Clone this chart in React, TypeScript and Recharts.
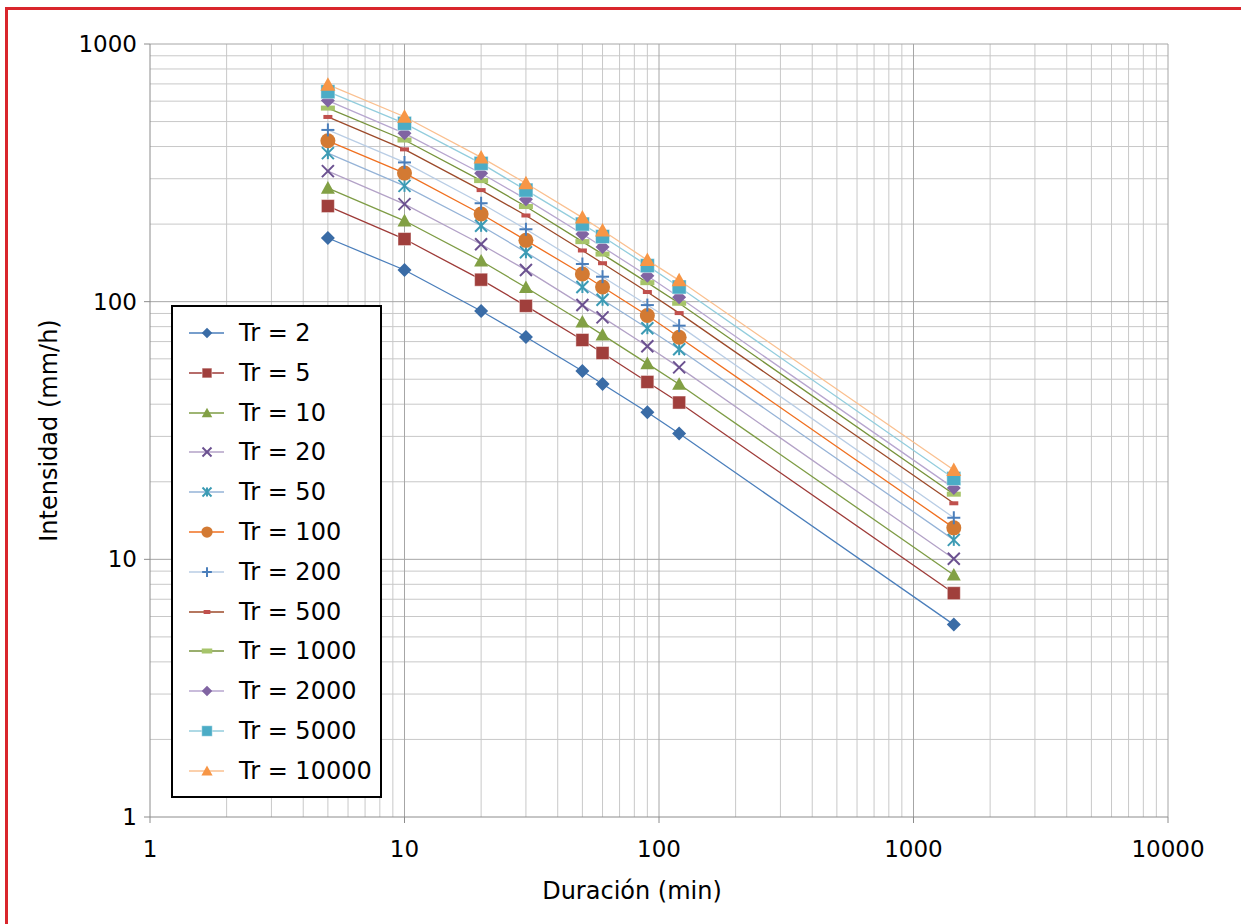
import React from 'react'
import { LineChart, Line, XAxis, YAxis, ReferenceLine, Label } from 'recharts'

// ─── Data ─────────────────────────────────────────────────────────────────────

const durations = [5, 10, 20, 30, 50, 60, 90, 120, 1440]

const tr2 = [176.6, 132.7, 92.0, 72.9, 53.8, 47.9, 37.2, 30.8, 5.58]
const tr5 = [235, 175, 121.7, 96.3, 71.0, 63.2, 48.8, 40.6, 7.39]
const tr10 = [276, 206, 143.8, 113.5, 83.4, 74.3, 57.5, 47.8, 8.7]
const tr20 = [321, 239, 167, 132.8, 97, 86.9, 67.1, 55.6, 10.05]
const tr50 = [377, 281.5, 197, 155.5, 114, 101.7, 78.9, 65.4, 11.9]
const tr100 = [421, 315.5, 219, 173, 128, 114, 88.4, 72.8, 13.25]
const tr200 = [464, 347, 241, 191, 140, 125, 97, 80.7, 14.5]
const tr500 = [521, 390, 271, 216, 158, 141, 109, 90.3, 16.5]
const tr1000 = [564, 424, 295, 234, 171, 153, 118.5, 98.6, 17.9]
const tr2000 = [603, 450, 315, 250, 183, 163, 126, 104, 18.9]
const tr5000 = [653, 492, 344, 271, 200, 179, 138, 114, 20.6]
const tr10000 = [695, 522, 363, 288, 212, 189, 145, 121, 22.2]

const seriesNames = [
  'Tr = 2', 'Tr = 5', 'Tr = 10', 'Tr = 20', 'Tr = 50', 'Tr = 100',
  'Tr = 200', 'Tr = 500', 'Tr = 1000', 'Tr = 2000', 'Tr = 5000', 'Tr = 10000',
]
const seriesValues = [tr2, tr5, tr10, tr20, tr50, tr100, tr200, tr500, tr1000, tr2000, tr5000, tr10000]

const xTicks = [1, 10, 100, 1000, 10000]
const yTicks = [1, 10, 100, 1000]
const minorSteps = [2, 3, 4, 5, 6, 7, 8, 9]

// ─── Styles ───────────────────────────────────────────────────────────────────

type Kind = 'diamond' | 'square' | 'triangle' | 'x' | 'star' | 'circle' | 'plus' | 'dash' | 'bar'

interface SeriesStyle {
  line: string
  marker: string
  kind: Kind
  size: number
}

const styles: SeriesStyle[] = [
  { line: '#4A7EBB', marker: '#3A6CA6', kind: 'diamond', size: 7 },
  { line: '#9E3B38', marker: '#A03F3C', kind: 'square', size: 6.5 },
  { line: '#7E9C45', marker: '#82A045', kind: 'triangle', size: 7 },
  { line: '#B3A2C7', marker: '#6B5190', kind: 'x', size: 6 },
  { line: '#95B3D7', marker: '#3C9BB4', kind: 'star', size: 6 },
  { line: '#F07020', marker: '#D37A33', kind: 'circle', size: 7.5 },
  { line: '#B9CDE5', marker: '#4A7EBB', kind: 'plus', size: 6.5 },
  { line: '#9C4A2A', marker: '#C0504D', kind: 'dash', size: 4.5 },
  { line: '#77933C', marker: '#A6C46A', kind: 'bar', size: 7 },
  { line: '#B7A6CF', marker: '#8064A2', kind: 'diamond', size: 7 },
  { line: '#93CDDD', marker: '#4BACC6', kind: 'square', size: 7 },
  { line: '#FAC090', marker: '#F79646', kind: 'triangle', size: 7.5 },
]

const FONT = '"DejaVu Sans", Verdana, sans-serif'

const data = durations.map((d, i) => {
  const row: Record<string, number> = { d }
  seriesValues.forEach((vals, s) => {
    row[`s${s}`] = vals[i]
  })
  return row
})

// ─── Markers ──────────────────────────────────────────────────────────────────

function Marker({ kind, x, y, s, color }: { kind: Kind; x: number; y: number; s: number; color: string }) {
  switch (kind) {
    case 'diamond':
      return <polygon points={`${x},${y - s} ${x + s},${y} ${x},${y + s} ${x - s},${y}`} fill={color} />
    case 'square':
      return <rect x={x - s} y={y - s} width={2 * s} height={2 * s} fill={color} stroke="#ffffff" strokeOpacity={0.45} strokeWidth={1} />
    case 'triangle':
      return <polygon points={`${x},${y - s} ${x + s},${y + s * 0.8} ${x - s},${y + s * 0.8}`} fill={color} />
    case 'x':
      return (
        <g stroke={color} strokeWidth={2}>
          <line x1={x - s} y1={y - s} x2={x + s} y2={y + s} />
          <line x1={x - s} y1={y + s} x2={x + s} y2={y - s} />
        </g>
      )
    case 'star':
      return (
        <g stroke={color} strokeWidth={2}>
          <line x1={x - s} y1={y - s} x2={x + s} y2={y + s} />
          <line x1={x - s} y1={y + s} x2={x + s} y2={y - s} />
          <line x1={x} y1={y - s} x2={x} y2={y + s} />
        </g>
      )
    case 'circle':
      return <circle cx={x} cy={y} r={s} fill={color} />
    case 'plus':
      return (
        <g stroke={color} strokeWidth={2}>
          <line x1={x - s} y1={y} x2={x + s} y2={y} />
          <line x1={x} y1={y - s} x2={x} y2={y + s} />
        </g>
      )
    case 'dash':
      return <rect x={x - s} y={y - 2} width={2 * s} height={4} fill={color} />
    case 'bar':
      return <rect x={x - s} y={y - 2.5} width={2 * s} height={5} fill={color} />
  }
}

// ─── Legend ───────────────────────────────────────────────────────────────────

function LegendBox() {
  return (
    <div
      style={{
        position: 'absolute',
        left: 171,
        top: 305,
        width: 207,
        height: 489,
        border: '2px solid #000',
        background: '#fff',
        boxSizing: 'content-box',
      }}
    >
      {seriesNames.map((name, i) => {
        const st = styles[i]
        return (
          <div
            key={name}
            style={{ position: 'absolute', left: 0, top: 6 + i * 39.8, height: 40, display: 'flex', alignItems: 'center' }}
          >
            <svg width={66} height={40} style={{ display: 'block' }}>
              <line x1={16} y1={20} x2={51} y2={20} stroke={st.line} strokeWidth={1.5} />
              <Marker kind={st.kind} x={34} y={20} s={st.size * 0.75} color={st.marker} />
            </svg>
            <span style={{ fontFamily: FONT, fontSize: 24, color: '#000', whiteSpace: 'nowrap' }}>{name}</span>
          </div>
        )
      })}
    </div>
  )
}

// ─── Chart ────────────────────────────────────────────────────────────────────

export default function App() {
  const minorX = xTicks.slice(0, -1).flatMap((t) => minorSteps.map((m) => m * t))
  const minorY = yTicks.slice(0, -1).flatMap((t) => minorSteps.map((m) => m * t))

  return (
    <div style={{ position: 'absolute', left: 0, top: 0, width: 1241, height: 924, overflow: 'hidden', background: '#fff' }}>
      <div
        style={{
          position: 'absolute',
          left: 5,
          top: 7,
          width: 1300,
          height: 1000,
          borderTop: '3px solid #D9262C',
          borderLeft: '3px solid #D9262C',
        }}
      />
      <div style={{ position: 'absolute', left: 0, top: 0 }}>
        <LineChart width={1241} height={924} data={data} margin={{ top: 44, right: 73, left: 0, bottom: 47 }}>
          {minorX.map((v) => (
            <ReferenceLine key={`mx${v}`} x={v} stroke="#C8C8C8" strokeWidth={1} />
          ))}
          {minorY.map((v) => (
            <ReferenceLine key={`my${v}`} y={v} stroke="#C8C8C8" strokeWidth={1} />
          ))}
          {xTicks.slice(1).map((v) => (
            <ReferenceLine key={`Mx${v}`} x={v} stroke="#A6A6A6" strokeWidth={1} />
          ))}
          {yTicks.slice(1).map((v) => (
            <ReferenceLine key={`My${v}`} y={v} stroke="#A6A6A6" strokeWidth={1} />
          ))}

          <XAxis
            dataKey="d"
            type="number"
            scale="log"
            domain={[1, 10000]}
            ticks={xTicks}
            allowDataOverflow
            height={60}
            tickSize={6}
            tickMargin={18}
            stroke="#8C8C8C"
            tick={{ fill: '#000', fontSize: 23, fontFamily: FONT }}
          >
            <Label
              content={({ viewBox }: any) => (
                <text
                  x={viewBox.x + viewBox.width / 2 - 27}
                  y={899}
                  textAnchor="middle"
                  fontSize={24}
                  fontFamily={FONT}
                  fill="#000"
                >
                  Duración (min)
                </text>
              )}
            />
          </XAxis>
          <YAxis
            type="number"
            scale="log"
            domain={[1, 1000]}
            ticks={yTicks}
            allowDataOverflow
            width={150}
            tickSize={6}
            tickMargin={7}
            stroke="#8C8C8C"
            tick={{ fill: '#000', fontSize: 23, fontFamily: FONT }}
          >
            <Label
              content={({ viewBox }: any) => {
                const cy = viewBox.y + viewBox.height / 2
                return (
                  <text
                    x={57}
                    y={cy}
                    transform={`rotate(-90, 57, ${cy})`}
                    textAnchor="middle"
                    fontSize={24}
                    fontFamily={FONT}
                    fill="#000"
                  >
                    Intensidad (mm/h)
                  </text>
                )
              }}
            />
          </YAxis>

          {styles.map((st, i) => (
            <Line
              key={seriesNames[i]}
              type="linear"
              dataKey={`s${i}`}
              name={seriesNames[i]}
              stroke={st.line}
              strokeWidth={1.3}
              isAnimationActive={false}
              activeDot={false}
              dot={(p: any) => (
                <Marker key={`${i}-${p.index}`} kind={st.kind} x={p.cx} y={p.cy} s={st.size} color={st.marker} />
              )}
            />
          ))}
        </LineChart>
      </div>
      <LegendBox />
    </div>
  )
}
